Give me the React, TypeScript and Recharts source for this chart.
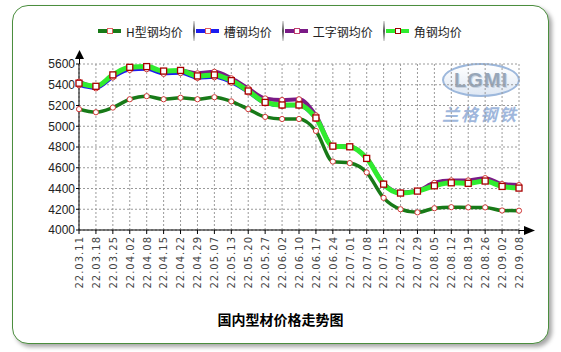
import React from 'react';
import { LineChart, Line, XAxis, YAxis, CartesianGrid } from 'recharts';

// 周度均价（元/吨）
const dates = [
  '22.03.11', '22.03.18', '22.03.25', '22.04.02', '22.04.08', '22.04.15', '22.04.22',
  '22.04.29', '22.05.07', '22.05.13', '22.05.20', '22.05.27', '22.06.02', '22.06.10',
  '22.06.17', '22.06.24', '22.07.01', '22.07.08', '22.07.15', '22.07.22', '22.07.29',
  '22.08.05', '22.08.12', '22.08.19', '22.08.26', '22.09.02', '22.09.08',
];
const hBeam = [
  5165, 5135, 5180, 5260, 5290, 5260, 5275, 5260, 5280, 5240, 5165, 5090, 5070, 5070,
  4955, 4660, 4645, 4555, 4310, 4200, 4170, 4210, 4220, 4218, 4218, 4188, 4186,
];
const channel = [
  5395, 5365, 5470, 5542, 5550, 5505, 5512, 5465, 5472, 5420, 5325, 5220, 5195, 5198,
  5070, 4805, 4798, 4688, 4440, 4358, 4376, 4440, 4465, 4462, 4485, 4430, 4415,
];
const iBeam = [
  5430, 5380, 5490, 5565, 5572, 5528, 5535, 5510, 5525, 5462, 5365, 5268, 5253, 5260,
  5105, 4812, 4806, 4695, 4448, 4360, 4378, 4455, 4478, 4478, 4500, 4443, 4433,
];
const angle = [
  5415, 5385, 5495, 5568, 5575, 5532, 5538, 5485, 5495, 5440, 5340, 5230, 5205, 5205,
  5080, 4808, 4802, 4690, 4442, 4356, 4375, 4426, 4455, 4450, 4472, 4420, 4404,
];
const yTicks = [4000, 4200, 4400, 4600, 4800, 5000, 5200, 5400, 5600];

const series = [
  { key: 'h', name: 'H型钢均价', color: '#187a18', width: 3.5, mark: '#e06060' },
  { key: 'channel', name: '槽钢均价', color: '#1c1cf0', width: 3, mark: '#e06060' },
  { key: 'ibeam', name: '工字钢均价', color: '#7a1a86', width: 4, mark: '#c04070' },
  { key: 'angle', name: '角钢均价', color: '#2fec2f', width: 5, mark: '#a00000' },
];

const data = dates.map((d, i) => ({
  date: d,
  h: hBeam[i],
  channel: channel[i],
  ibeam: iBeam[i],
  angle: angle[i],
}));

const W = 561;
const H = 352;

const circleDot = (props: any) => (
  <circle
    key={`c-${props.dataKey}-${props.index}`}
    cx={props.cx}
    cy={props.cy}
    r={2.6}
    fill="#fff"
    stroke="#d03a3a"
    strokeWidth={1}
  />
);

const squareDot = (props: any) => (
  <rect
    key={`s-${props.index}`}
    x={props.cx - 3}
    y={props.cy - 3}
    width={6}
    height={6}
    fill="#fff"
    stroke="#a80000"
    strokeWidth={1.3}
  />
);

const DateTick = (props: any) => {
  const { x, y, payload } = props;
  return (
    <g transform={`translate(${x},${y})`}>
      <text
        transform="rotate(-90)"
        textAnchor="end"
        dy="0.38em"
        fontSize={10}
        letterSpacing={1}
        fontFamily="DejaVu Sans, sans-serif"
        fill="#444"
      >
        {payload.value}
      </text>
    </g>
  );
};

function LegendRow() {
  return (
    <div
      style={{
        position: 'absolute',
        left: 98,
        top: 21,
        display: 'flex',
        alignItems: 'center',
        fontFamily: '"Noto Sans CJK SC", sans-serif',
        fontSize: 12,
        color: '#222',
        height: 20,
      }}
    >
      {series.map((s, i) => (
        <div key={s.key} style={{ display: 'flex', alignItems: 'center' }}>
          {i > 0 && (
            <div
              style={{
                width: 2,
                height: 20,
                marginLeft: 10,
                marginRight: 1,
                background: 'linear-gradient(#ddd, #555 50%, #ddd)',
              }}
            />
          )}
          <div style={{ position: 'relative', width: 23, height: 4, background: s.color }}>
            <div
              style={{
                position: 'absolute',
                left: 9,
                top: -1,
                width: 4,
                height: 4,
                background: '#fff',
                border: `1px solid ${s.mark}`,
              }}
            />
          </div>
          <span style={{ marginLeft: 5, whiteSpace: 'nowrap' }}>{s.name}</span>
        </div>
      ))}
    </div>
  );
}

function Logo() {
  return (
    <div style={{ position: 'absolute', left: 442, top: 63, width: 78, pointerEvents: 'none' }}>
      <div
        style={{
          width: 74,
          height: 30,
          borderRadius: '50%',
          border: '2px solid #9db8dc',
          background: 'linear-gradient(#ffffff, #dfe8f4)',
          display: 'flex',
          alignItems: 'center',
          justifyContent: 'center',
          fontFamily: 'Arial, "Liberation Sans", sans-serif',
          fontWeight: 'bold',
          fontSize: 20,
          color: '#97a6b8',
          letterSpacing: 1,
          textShadow: '1px 1px 0 #c9d3e0',
        }}
      >
        LGMI
      </div>
      <div
        style={{
          marginTop: 4,
          fontFamily: '"Noto Sans CJK SC", sans-serif',
          fontWeight: 'bold',
          fontStyle: 'italic',
          fontSize: 17,
          color: '#9fb7dc',
          letterSpacing: 2,
          whiteSpace: 'nowrap',
        }}
      >
        兰格钢铁
      </div>
    </div>
  );
}

export default function App() {
  return (
    <div style={{ position: 'absolute', left: 0, top: 0, width: W, height: H, background: '#fff' }}>
      <div
        style={{
          position: 'absolute',
          left: 12,
          top: 5,
          width: 535,
          height: 337,
          border: '1px solid #4b8e3e',
          borderRadius: 16,
          boxShadow: '3px 3px 4px rgba(0,0,0,0.35)',
          background: '#fff',
        }}
      />
      <Logo />
      <div style={{ position: 'absolute', left: 0, top: 0 }}>
        <LineChart width={W} height={H} data={data} margin={{ top: 64, right: 42, left: 39, bottom: 62 }}>
          <CartesianGrid stroke="#9a9a9a" strokeDasharray="2 2" />
          <XAxis
            dataKey="date"
            interval={0}
            height={60}
            tick={<DateTick />}
            tickSize={4}
            tickMargin={2}
            axisLine={{ stroke: '#000' }}
            tickLine={{ stroke: '#000' }}
          />
          <YAxis
            type="number"
            domain={[4000, 5600]}
            ticks={yTicks}
            interval={0}
            width={40}
            tickSize={3}
            tickMargin={1}
            axisLine={{ stroke: '#000' }}
            tickLine={{ stroke: '#000' }}
            tick={{ fontSize: 12, fill: '#222', fontFamily: '"Liberation Sans", Arial, sans-serif' }}
          />
          <Line type="monotone" dataKey="h" stroke={series[0].color} strokeWidth={series[0].width} dot={circleDot} isAnimationActive={false} />
          <Line type="monotone" dataKey="channel" stroke={series[1].color} strokeWidth={series[1].width} dot={circleDot} isAnimationActive={false} />
          <Line type="monotone" dataKey="ibeam" stroke={series[2].color} strokeWidth={series[2].width} dot={circleDot} isAnimationActive={false} />
          <Line type="monotone" dataKey="angle" stroke={series[3].color} strokeWidth={series[3].width} dot={squareDot} isAnimationActive={false} />
        </LineChart>
      </div>
      {/* 坐标轴箭头 */}
      <svg width={W} height={H} style={{ position: 'absolute', left: 0, top: 0, pointerEvents: 'none' }}>
        <line x1={79.5} y1={64} x2={79.5} y2={58} stroke="#000" />
        <polygon points="75,59 84,59 79.5,50" fill="#000" />
        <line x1={519} y1={230.5} x2={525} y2={230.5} stroke="#000" />
        <polygon points="524,226 524,235 535,230.5" fill="#000" />
      </svg>
      <LegendRow />
      <div
        style={{
          position: 'absolute',
          left: 0,
          width: W,
          top: 309,
          textAlign: 'center',
          fontFamily: '"Noto Sans CJK SC", sans-serif',
          fontWeight: 'bold',
          fontSize: 14,
          color: '#000',
        }}
      >
        国内型材价格走势图
      </div>
    </div>
  );
}
